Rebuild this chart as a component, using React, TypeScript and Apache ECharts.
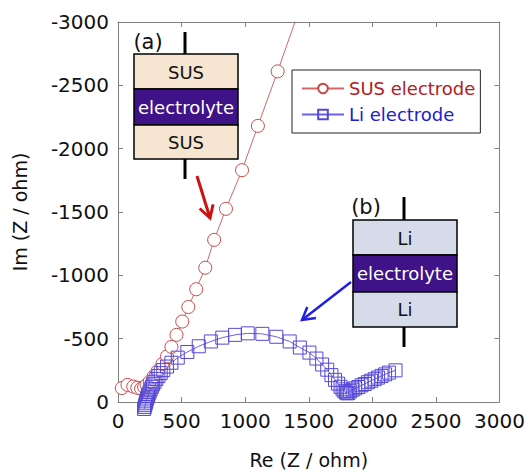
import { useEffect, useRef } from "react";
import * as echarts from "echarts";

const FONT = '"DejaVu Sans", "Liberation Sans", Arial, sans-serif';

// SUS electrode (red circles)
const susRe = [30, 75, 120, 152, 182, 205, 225, 250, 280, 312, 350, 385, 420, 460, 505, 553, 615, 686, 756, 849, 975, 1100, 1255, 1430];
const susIm = [-110, -135, -122, -112, -105, -118, -135, -160, -200, -245, -300, -360, -435, -530, -635, -750, -890, -1060, -1280, -1525, -1830, -2180, -2610, -3110];

// Li electrode (blue squares)
const liRe = [205, 210, 214, 218, 222, 226, 231, 236, 242, 249, 257, 266, 276, 288, 302, 318, 336, 356, 385, 420, 470, 545, 635, 730, 820, 920, 1020, 1135, 1245, 1350, 1430, 1505, 1560, 1605, 1645, 1678, 1706, 1730, 1750, 1766, 1780, 1792, 1802, 1812, 1825, 1845, 1865, 1890, 1915, 1940, 1965, 1990, 2018, 2045, 2072, 2100, 2130, 2182];
const liIm = [55, 40, 25, 10, -5, -20, -35, -50, -65, -82, -100, -120, -140, -160, -182, -205, -228, -252, -280, -310, -350, -395, -440, -478, -508, -530, -542, -538, -515, -478, -430, -390, -343, -296, -255, -212, -175, -145, -120, -100, -85, -75, -68, -72, -85, -97, -108, -118, -132, -142, -156, -168, -180, -193, -206, -218, -232, -250];

const xMin = 0, xMax = 3000, yMin = -3000, yMax = 0, tickStep = 500;

const susData = susRe.map((x, i) => [x, susIm[i]]);
const liData = liRe.map((x, i) => [x, liIm[i]]);

const axisColor = "#808080";

function baseAxis(extra: any) {
  return {
    type: "value",
    interval: tickStep,
    splitLine: { show: false },
    axisLine: { show: true, onZero: false, lineStyle: { color: axisColor, width: 1 } },
    axisTick: { show: true, inside: true, length: 5, lineStyle: { color: axisColor } },
    ...extra,
  };
}

export default function App() {
  const ref = useRef<HTMLDivElement>(null);
  useEffect(() => {
    document.body.style.margin = "0";
    const chart = echarts.init(ref.current!, null, { renderer: "svg" });
    const label = { color: "#111", fontSize: 20, fontFamily: FONT, margin: 9, formatter: (v: number) => String(v) };
    const txt = (text: string, x: number, y: number, fill: string, size = 18) => ({
      type: "text",
      x,
      y,
      z: 100,
      style: {
        text,
        fill,
        font: `${size}px ${FONT}`,
        align: "center",
        verticalAlign: "middle",
        textAlign: "center",
        textVerticalAlign: "middle",
      },
    });
    const rect = (x: number, y: number, w: number, h: number, fill: string) => ({
      type: "rect",
      z: 99,
      shape: { x, y, width: w, height: h },
      style: { fill, stroke: "#000", lineWidth: 1.5 },
    });
    const lead = (x: number, y1: number, y2: number) => ({
      type: "line",
      z: 99,
      shape: { x1: x, y1, x2: x, y2 },
      style: { stroke: "#000", lineWidth: 3 },
    });
    const option: any = {
      animation: false,
      grid: { left: 118, top: 22, width: 385, height: 385 },
      xAxis: [
        baseAxis({
          min: xMin,
          max: xMax,
          position: "bottom",
          axisLabel: label,
          name: "Re (Z / ohm)",
          nameLocation: "middle",
          nameGap: 48,
          nameTextStyle: { color: "#111", fontSize: 19, fontFamily: FONT },
        }),
        baseAxis({ min: xMin, max: xMax, position: "top", axisLabel: { show: false } }),
      ],
      yAxis: [
        baseAxis({
          min: yMin,
          max: yMax,
          inverse: true,
          position: "left",
          axisLabel: label,
          name: "Im (Z / ohm)",
          nameLocation: "middle",
          nameRotate: 90,
          nameGap: 89,
          nameTextStyle: { color: "#111", fontSize: 19, fontFamily: FONT },
        }),
        baseAxis({ min: yMin, max: yMax, inverse: true, position: "right", axisLabel: { show: false } }),
      ],
      legend: {
        orient: "vertical",
        left: 292,
        top: 70,
        itemWidth: 42,
        itemHeight: 12,
        itemGap: 7,
        padding: [9, 5, 9, 9],
        borderColor: "#222",
        borderWidth: 1,
        textStyle: { fontFamily: FONT, fontSize: 18, lineHeight: 19 },
        data: [
          { name: "SUS electrode", textStyle: { color: "#b02020" } },
          { name: "Li electrode", textStyle: { color: "#2020d0" } },
        ],
      },
      series: [
        {
          type: "line",
          name: "SUS electrode",
          data: susData,
          symbol: "circle",
          symbolSize: 13,
          clip: true,
          lineStyle: { color: "#d06868", width: 1 },
          itemStyle: { color: "#ffffff", borderColor: "#c84848", borderWidth: 1 },
        },
        {
          type: "line",
          name: "Li electrode",
          data: liData,
          symbol: "rect",
          symbolSize: 13,
          clip: false,
          lineStyle: { color: "#6a60e0", width: 1 },
          itemStyle: { color: "rgba(255,255,255,0)", borderColor: "#5548d6", borderWidth: 1 },
        },
      ],
      graphic: {
        elements: [
          // inset (a)
          lead(185, 32, 54),
          lead(185, 159, 179),
          rect(134, 54, 104, 35, "#f6e5d0"),
          rect(134, 89, 104, 36, "#3f1387"),
          rect(134, 125, 104, 34, "#f6e5d0"),
          txt("SUS", 186, 72, "#111"),
          txt("electrolyte", 186, 107, "#ffffff"),
          txt("SUS", 186, 142, "#111"),
          txt("(a)", 148, 42, "#111", 21),
          // inset (b)
          lead(404, 197, 220),
          lead(404, 327, 347),
          rect(353, 220, 104, 35, "#d5dbe9"),
          rect(353, 255, 104, 37, "#3f1387"),
          rect(353, 292, 104, 35, "#d5dbe9"),
          txt("Li", 405, 238, "#111"),
          txt("electrolyte", 405, 273, "#ffffff"),
          txt("Li", 405, 309, "#111"),
          txt("(b)", 366, 207, "#111", 21),
          // arrows
          { type: "line", z: 99, shape: { x1: 197, y1: 176, x2: 210, y2: 218 }, style: { stroke: "#cc1111", lineWidth: 3 } },
          { type: "polyline", z: 99, shape: { points: [[199.7, 208.5], [210, 218], [213.1, 204.4]] }, style: { stroke: "#cc1111", lineWidth: 3, fill: null } },
          { type: "line", z: 99, shape: { x1: 351, y1: 282, x2: 302, y2: 320 }, style: { stroke: "#2020e0", lineWidth: 2.5 } },
          { type: "polyline", z: 99, shape: { points: [[315.9, 318.1], [302, 320], [307.3, 307]] }, style: { stroke: "#2020e0", lineWidth: 2.5, fill: null } },
        ],
      },
    };
    chart.setOption(option);
    return () => chart.dispose();
  }, []);
  return <div ref={ref} style={{ width: 528, height: 474 }} />;
}
